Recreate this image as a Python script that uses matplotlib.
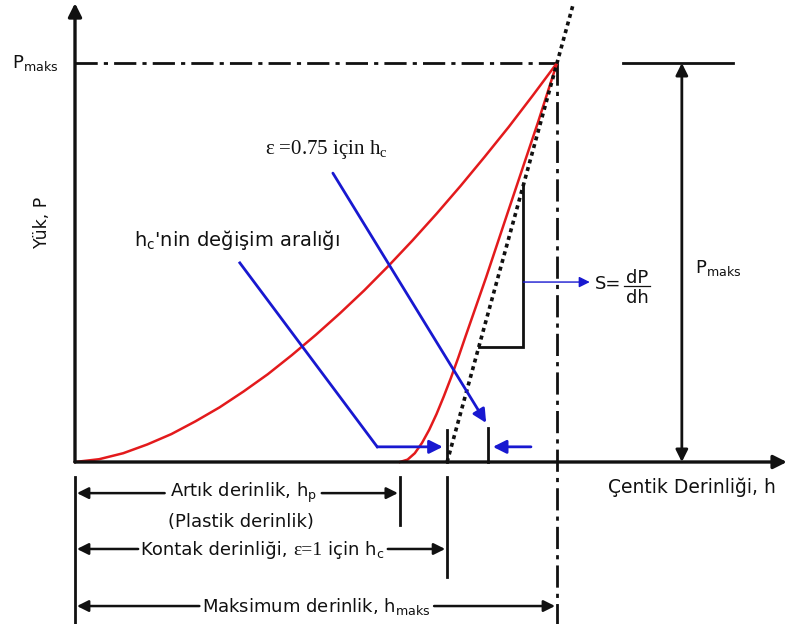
import matplotlib
matplotlib.use("Agg")
import matplotlib.pyplot as plt

# ---- curve data (depth h normalised to h_maks, load P normalised to P_maks) ----
h_load = [0.0, 0.05, 0.10, 0.15, 0.20, 0.25, 0.30, 0.35, 0.40, 0.45, 0.50,
          0.55, 0.60, 0.65, 0.70, 0.75, 0.80, 0.85, 0.90, 0.95, 1.0]
P_load = [0.0, 0.007, 0.022, 0.044, 0.070, 0.102, 0.137, 0.177, 0.220, 0.268, 0.319,
          0.373, 0.430, 0.491, 0.555, 0.622, 0.692, 0.765, 0.840, 0.919, 1.0]

h_unload = [0.674, 0.690, 0.705, 0.720, 0.735, 0.750, 0.765, 0.780, 0.795, 0.810,
            0.853, 0.898, 0.961, 1.0]
P_unload = [0.0, 0.006, 0.022, 0.048, 0.081, 0.120, 0.164, 0.211, 0.261, 0.314,
            0.463, 0.626, 0.853, 1.0]

h_max = 1.0
P_max = 1.0
h_p = 0.674           # residual (plastic) depth
h_c_eps1 = 0.772      # contact depth for epsilon = 1 (tangent intercept)
h_c_eps075 = 0.857    # contact depth for epsilon = 0.75
h_tangent_end = 1.033 # tangent drawn a little past h_maks

RED = "#e31a1c"
BLUE = "#1818d0"
BLACK = "#111111"
SANS = "DejaVu Sans"
SERIF = "Liberation Serif"
FS = 13

fig = plt.figure(figsize=(7.91, 6.24), dpi=100)
ax = fig.add_axes([0, 0, 1, 1])
ax.set_xlim(-75 / 482, 716 / 482)
ax.set_ylim((462 - 624) / 399, 462 / 399)
ax.axis("off")


def arrow(x0, y0, x1, y1, color=BLACK, lw=2.0, ms=18, style="-|>"):
    ax.annotate("", xy=(x1, y1), xytext=(x0, y0),
                arrowprops=dict(arrowstyle=style, color=color, lw=lw,
                                mutation_scale=ms, shrinkA=0, shrinkB=0))


# axes with arrow heads
arrow(0, 0, 0, 1.15, lw=2.4, ms=20)
arrow(0, 0, 1.477, 0, lw=2.4, ms=20)

# P_maks / h_maks dash-dot guides
dashdot = (0, (8, 2.2, 1.5, 2.2))
ax.plot([0, h_max], [P_max, P_max], color=BLACK, lw=2.0, linestyle=dashdot)
ax.plot([h_max, h_max], [P_max, -0.41], color=BLACK, lw=2.0, linestyle=dashdot)

# loading and unloading curves
ax.plot(h_load, P_load, color=RED, lw=1.8, solid_joinstyle="round")
ax.plot(h_unload, P_unload, color=RED, lw=1.8, solid_joinstyle="round")

# tangent of the unloading curve at P_maks
slope = P_max / (h_max - h_c_eps1)
ax.plot([h_c_eps1, h_tangent_end], [0, slope * (h_tangent_end - h_c_eps1)],
        color=BLACK, lw=2.6, linestyle=(0, (1.1, 1.1)))

# slope triangle
P_tri_lo, P_tri_hi = 0.288, 0.694
h_tri_lo = h_c_eps1 + P_tri_lo / slope
h_tri_hi = h_c_eps1 + P_tri_hi / slope
ax.plot([h_tri_lo, h_tri_hi, h_tri_hi], [P_tri_lo, P_tri_lo, P_tri_hi],
        color=BLACK, lw=2.0, solid_joinstyle="miter")
arrow(h_tri_hi, 0.451, 1.068, 0.451, color=BLUE, lw=1.0, ms=16)
ax.text(1.106, 0.446, "S=", fontsize=FS, family=SANS, ha="center", va="center", color=BLACK)
ax.text(1.166, 0.449, "dP", fontsize=FS, family=SANS, ha="center", va="baseline", color=BLACK)
ax.plot([1.140, 1.193], [0.441, 0.441], color=BLACK, lw=0.9)
ax.text(1.166, 0.434, "dh", fontsize=FS, family=SANS, ha="center", va="top", color=BLACK)

# contact depth markers on the depth axis
ax.plot([h_c_eps1, h_c_eps1], [0, 0.08], color=BLACK, lw=2.0)
ax.plot([h_c_eps075, h_c_eps075], [0, 0.085], color=BLACK, lw=2.0)

# blue pointers
ax.plot([0.342, 0.627], [0.499, 0.038], color=BLUE, lw=2.0)
arrow(0.627, 0.038, 0.763, 0.038, color=BLUE, lw=2.0, ms=20)
arrow(0.535, 0.724, 0.853, 0.098, color=BLUE, lw=2.0, ms=20)
arrow(0.946, 0.038, 0.867, 0.038, color=BLUE, lw=2.0, ms=20)

# P_maks dimension on the right
ax.plot([1.137, 1.365], [P_max, P_max], color=BLACK, lw=2.0)
arrow(1.259, 0.0, 1.259, P_max, lw=2.0, ms=18, style="<|-|>")
ax.text(1.286, 0.486, r"P$\mathregular{_{maks}}$", fontsize=FS, family=SANS,
        ha="left", va="center", color=BLACK)

# axis labels
ax.text(-0.083, P_max, r"P$\mathregular{_{maks}}$", fontsize=FS, family=SANS,
        ha="center", va="center", color=BLACK)
ax.text(-0.068, 0.60, "Yük, P", fontsize=12.5, family=SANS, rotation=90,
        ha="center", va="center", color=BLACK)
ax.text(1.28, -0.063, "Çentik Derinliği, h", fontsize=13.5, family=SANS,
        ha="center", va="center", color=BLACK)

# annotations inside the plot
ax.text(0.521, 0.782, r"ε =0.75 için h$\mathregular{_c}$", fontsize=15, family=SERIF,
        ha="center", va="center", color=BLACK)
ax.text(0.336, 0.556, r"h$\mathregular{_c}$'nin değişim aralığı", fontsize=14, family=SANS,
        ha="center", va="center", color=BLACK)

# depth dimension lines below the axis
ax.plot([0, 0], [-0.038, -0.41], color=BLACK, lw=2.0)
ax.plot([h_p, h_p], [-0.038, -0.158], color=BLACK, lw=2.0)
ax.plot([h_c_eps1, h_c_eps1], [-0.038, -0.288], color=BLACK, lw=2.0)

row1, row1b, row2, row3 = -0.078, -0.150, -0.218, -0.361
arrow(0.186, row1, 0.004, row1, lw=1.8, ms=17)
arrow(0.512, row1, h_p - 0.004, row1, lw=1.8, ms=17)
ax.text(0.350, row1, r"Artık derinlik, h$\mathregular{_p}$", fontsize=FS, family=SANS,
        ha="center", va="center", color=BLACK)
ax.text(0.345, row1b, "(Plastik derinlik)", fontsize=FS, family=SANS,
        ha="center", va="center", color=BLACK)

arrow(0.131, row2, 0.004, row2, lw=1.8, ms=17)
arrow(0.649, row2, h_c_eps1 - 0.004, row2, lw=1.8, ms=17)
# mixed sans / serif label, pieces placed side by side on one baseline
base2 = row2 - 0.016
pieces = [("Kontak derinliği, ", SANS, FS), ("ε=1", SERIF, 14),
          (r" için h$\mathregular{_c}$", SANS, FS)]
fig.canvas.draw()
renderer = fig.canvas.get_renderer()
texts = []
x_cur = 0.0
for s, fam, fs in pieces:
    t = ax.text(x_cur, base2, s, fontsize=fs, family=fam, ha="left",
                va="baseline", color=BLACK)
    bb = t.get_window_extent(renderer).transformed(ax.transData.inverted())
    texts.append(t)
    x_cur += bb.width
offset = 0.390 - x_cur / 2
for t in texts:
    t.set_x(t.get_position()[0] + offset)

arrow(0.258, row3, 0.004, row3, lw=1.8, ms=17)
arrow(0.745, row3, h_max - 0.004, row3, lw=1.8, ms=17)
ax.text(0.500, row3, r"Maksimum derinlik, h$\mathregular{_{maks}}$", fontsize=FS, family=SANS,
        ha="center", va="center", color=BLACK)

fig.savefig("out.png", dpi=100, facecolor="white")
